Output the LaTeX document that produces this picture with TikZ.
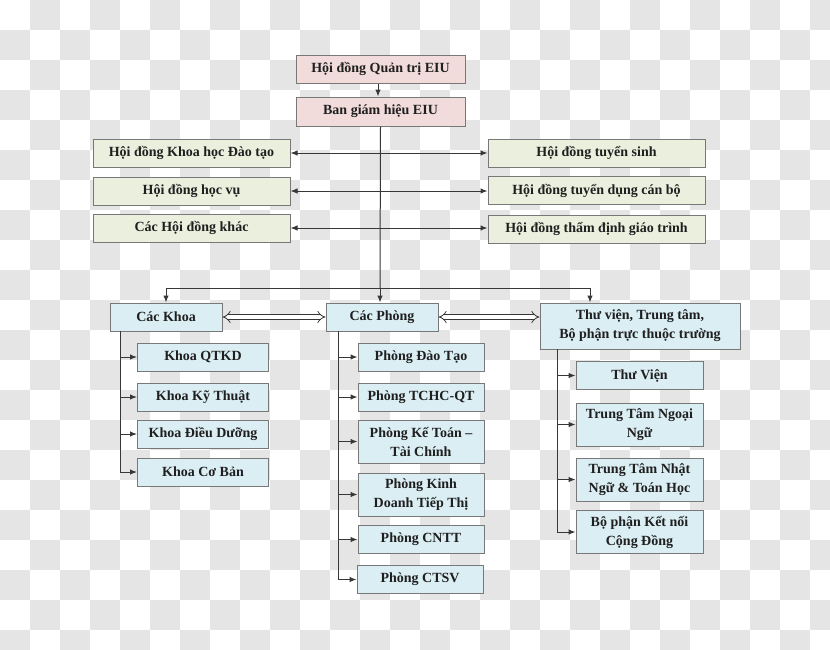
\documentclass[tikz,border=0pt]{standalone}
\usepackage{fontspec}
\setmainfont{Liberation Serif}
\usetikzlibrary{arrows.meta}
\definecolor{checker}{RGB}{229,229,229}
\definecolor{pinkbox}{RGB}{242,220,219}
\definecolor{greenbox}{RGB}{235,240,222}
\definecolor{bluebox}{RGB}{219,238,244}
\definecolor{boxline}{RGB}{120,120,120}
\definecolor{conn}{RGB}{55,55,55}
\tikzset{
  box/.style={draw=boxline, line width=1pt, inner sep=1pt, align=center,
    font=\bfseries\fontsize{14}{19}\selectfont, text=black!88},
  pinkb/.style={box, fill=pinkbox},
  greenb/.style={box, fill=greenbox},
  blueb/.style={box, fill=bluebox},
  line/.style={draw=conn, line width=1pt},
  arr/.style={line, -{Latex[length=7pt,width=5.5pt]}},
  darr/.style={line, {Latex[length=7pt,width=5.5pt]}-{Latex[length=7pt,width=5.5pt]}},
  hollow/.style={draw=conn, line width=0.8pt, double=white, double distance=3.5pt, {Implies[scale=1.3]}-{Implies[scale=1.3]}},
}
\begin{document}
\begin{tikzpicture}[x=1pt,y=-1pt]
\useasboundingbox (0,0) rectangle (830,649);
% checkerboard background
\begin{scope}
\clip (0,0) rectangle (830,649);
\foreach \i in {0,...,27}{
  \foreach \j in {0,...,21}{
    \pgfmathtruncatemacro{\parity}{mod(\i+\j,2)}
    \ifnum\parity=1
      \fill[checker] (30*\i,30*\j) rectangle ++(30,30);
    \fi
  }
}
\end{scope}

% top
\node[pinkb, minimum width=169pt, minimum height=28pt] (q) at (380.5,69) {Hội đồng Quản trị EIU};
\node[pinkb, minimum width=169pt, minimum height=29pt] (b) at (380.5,111.5) {Ban giám hiệu EIU};

% councils
\node[greenb, minimum width=197pt, minimum height=28pt] (l1) at (191.5,153) {Hội đồng Khoa học Đào tạo};
\node[greenb, minimum width=197pt, minimum height=28pt] (l2) at (191.5,191) {Hội đồng học vụ};
\node[greenb, minimum width=197pt, minimum height=28pt] (l3) at (191.5,228) {Các Hội đồng khác};
\node[greenb, minimum width=217pt, minimum height=28pt] (r1) at (596.5,153) {Hội đồng tuyển sinh};
\node[greenb, minimum width=217pt, minimum height=28pt] (r2) at (596.5,190.5) {Hội đồng tuyển dụng cán bộ};
\node[greenb, minimum width=217pt, minimum height=28pt] (r3) at (596.5,229) {Hội đồng thẩm định giáo trình};

% level 2
\node[blueb, minimum width=112pt, minimum height=28pt] (khoa) at (166,317) {Các Khoa};
\node[blueb, minimum width=112pt, minimum height=28pt] (phong) at (382,317) {Các Phòng};
\node[blueb, minimum width=200pt, minimum height=46pt] (tv) at (640,326) {Thư viện, Trung tâm,\\Bộ phận trực thuộc trường};

% Khoa children
\node[blueb, minimum width=131pt, minimum height=28pt] (k1) at (203,357) {Khoa QTKD};
\node[blueb, minimum width=131pt, minimum height=28pt] (k2) at (203,397) {Khoa Kỹ Thuật};
\node[blueb, minimum width=131pt, minimum height=28pt] (k3) at (203,434) {Khoa Điều Dưỡng};
\node[blueb, minimum width=131pt, minimum height=28pt] (k4) at (203,472) {Khoa Cơ Bản};

% Phong children
\node[blueb, minimum width=126pt, minimum height=28pt] (p1) at (421,357) {Phòng Đào Tạo};
\node[blueb, minimum width=126pt, minimum height=28pt] (p2) at (421,397) {Phòng TCHC-QT};
\node[blueb, minimum width=126pt, minimum height=43pt] (p3) at (421,441.5) {Phòng Kế Toán –\\Tài Chính};
\node[blueb, minimum width=126pt, minimum height=43pt] (p4) at (421,494.5) {Phòng Kinh\\Doanh Tiếp Thị};
\node[blueb, minimum width=126pt, minimum height=28pt] (p5) at (421,539.5) {Phòng CNTT};
\node[blueb, minimum width=126pt, minimum height=28pt] (p6) at (420,579.5) {Phòng CTSV};

% TV children
\node[blueb, minimum width=127pt, minimum height=28pt] (t1) at (639.5,375.5) {Thư Viện};
\node[blueb, minimum width=127pt, minimum height=43pt] (t2) at (639.5,424.5) {Trung Tâm Ngoại\\Ngữ};
\node[blueb, minimum width=127pt, minimum height=43pt] (t3) at (639.5,479.5) {Trung Tâm Nhật\\Ngữ \& Toán Học};
\node[blueb, minimum width=127pt, minimum height=43pt] (t4) at (639.5,532) {Bộ phận Kết nối\\Cộng Đồng};

% connectors top
\draw[arr] (q.south -| 378,0) -- (b.north -| 378,0);
\coordinate (hj) at (380,288);
\coordinate (hl) at (166,288);
\coordinate (hr) at (590,288);
\draw[line] (b.south) -- (hj);
\draw[line] (hl) -- (hr);
\draw[arr] (hl) -- (khoa.north);
\draw[arr] (hj) -- (hj |- phong.north);
\draw[arr] (hr) -- (hr |- tv.north);

% council arrows
\draw[darr] (l1.east) -- (r1.west |- l1.east);
\draw[darr] (l2.east) -- (r2.west |- l2.east);
\draw[darr] (l3.east) -- (r3.west |- l3.east);

% hollow double arrows
\draw[hollow] (khoa.east) -- (phong.west);
\draw[hollow] (phong.east) -- (tv.west |- phong.east);

% Khoa tree
\coordinate (ka) at (120,331);
\coordinate (kb) at (120,472);
\draw[line] (ka) -- (kb);
\foreach \n in {k1,k2,k3,k4}{\draw[arr] (\n.west -| ka) -- (\n.west);}

% Phong tree
\coordinate (pa) at (338,331);
\coordinate (pb) at (338,580);
\draw[line] (pa) -- (pb);
\foreach \n in {p1,p2,p3,p4,p5,p6}{\draw[arr] (\n.west -| pa) -- (\n.west);}

% TV tree
\coordinate (ta) at (557,349);
\coordinate (tb) at (557,532);
\draw[line] (ta) -- (tb);
\foreach \n in {t1,t2,t3,t4}{\draw[arr] (\n.west -| ta) -- (\n.west);}
\end{tikzpicture}
\end{document}
